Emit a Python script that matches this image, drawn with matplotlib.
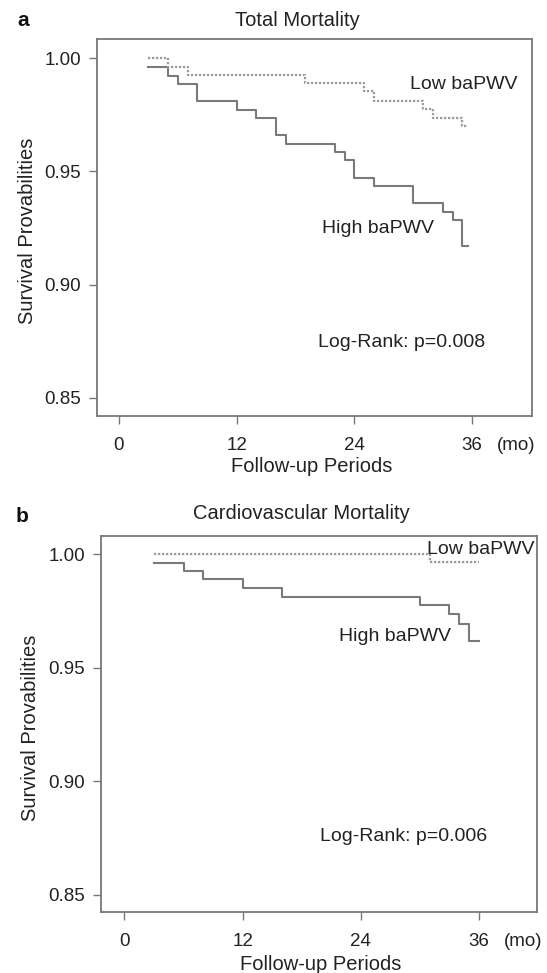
import matplotlib
matplotlib.use("Agg")
import matplotlib.pyplot as plt

plt.rcParams['font.family'] = ['Liberation Sans', 'DejaVu Sans']

# panel a: total mortality (months, survival)
a_low_t = [3, 5, 7, 19, 25, 26, 31, 32, 35, 35.6]
a_low_s = [1.000, 0.9962, 0.9925, 0.9890, 0.9854, 0.9813, 0.9774, 0.9736, 0.9700, 0.9700]
a_high_t = [3, 5, 6, 8, 12, 14, 16, 17, 22, 23, 24, 26, 30, 33, 34, 35, 35.6]
a_high_s = [0.9962, 0.9922, 0.9884, 0.9811, 0.9773, 0.9735, 0.9660, 0.9622, 0.9585,
            0.9549, 0.9470, 0.9435, 0.9360, 0.9320, 0.9286, 0.9170, 0.9170]

# panel b: cardiovascular mortality
b_low_t = [3, 31, 36]
b_low_s = [1.000, 0.9965, 0.9965]
b_high_t = [3, 6, 8, 12, 16, 30, 33, 34, 35, 36]
b_high_s = [0.9962, 0.9926, 0.9890, 0.9850, 0.9813, 0.9775, 0.9735, 0.9693, 0.9617, 0.9617]

xticks = [0, 12, 24, 36]
yticks = [0.85, 0.90, 0.95, 1.00]

fig = plt.figure(figsize=(5.47, 9.73), dpi=100)

txt = '#222222'
gray = '#777777'


def panel(rect, low_t, low_s, high_t, high_s, xlim, ylim, title, tpos, ptxt, lowpos, highpos, ppos, xlab_x, xlab_y, ylab_x):
    ax = fig.add_axes(rect)
    ax.step(high_t, high_s, where='post', color='#7a7a7a', lw=1.5)
    ax.step(low_t, low_s, where='post', color='#9a9a9a', lw=1.6, ls=(0, (1, 0.8)))
    ax.set_xlim(*xlim)
    ax.set_ylim(*ylim)
    ax.set_xticks(xticks)
    ax.set_yticks(yticks)
    ax.set_yticklabels([f'{v:.2f}' for v in yticks])
    for sp in ax.spines.values():
        sp.set_color(gray)
        sp.set_linewidth(1.3)
    ax.tick_params(direction='out', length=5.5, width=1.0, color=gray,
                   labelsize=13.5, labelcolor=txt)
    ax.tick_params(axis='y', pad=6)
    ax.tick_params(axis='x', pad=9.5)
    ax.set_xlabel('Follow-up Periods', fontsize=14.5, color=txt)
    ax.xaxis.set_label_coords(xlab_x, xlab_y)
    ax.set_ylabel('Survival Provabilities', fontsize=14.5, color=txt)
    ax.yaxis.set_label_coords(ylab_x, 0.49)
    ax.text(tpos[0], tpos[1], title, transform=ax.transAxes, ha='center', va='center',
            fontsize=14.5, color=txt)
    ax.annotate('(mo)', xy=(40.5, 0), xycoords=('data', 'axes fraction'),
                xytext=(0, -15), textcoords='offset points', ha='center', va='top',
                fontsize=13.5, color=txt)
    ax.text(lowpos[0], lowpos[1], 'Low baPWV', ha='center', va='center', fontsize=14, color=txt)
    ax.text(highpos[0], highpos[1], 'High baPWV', ha='center', va='center', fontsize=14, color=txt)
    ax.text(ppos[0], ppos[1], ptxt, ha='center', va='center', fontsize=14, color=txt)
    return ax


panel([97 / 547, 1 - 416 / 973, 435 / 547, 377 / 973],
      a_low_t, a_low_s, a_high_t, a_high_s,
      (-2.24, 42.1), (0.8419, 1.0085),
      'Total Mortality', (0.461, 1.050), 'Log-Rank: p=0.008',
      (35.1, 0.9882), (26.4, 0.9246), (28.8, 0.8742), 0.494, -0.11, -0.137)

panel([101 / 547, 1 - 912 / 973, 436 / 547, 376 / 973],
      b_low_t, b_low_s, b_high_t, b_high_s,
      (-2.38, 41.9), (0.8425, 1.008),
      'Cardiovascular Mortality', (0.46, 1.060), 'Log-Rank: p=0.006',
      (36.2, 1.0022), (27.45, 0.9637), (28.3, 0.8757), 0.503, -0.114, -0.140)

fig.text(22.8 / 547, 1 - 21 / 973, 'a', fontsize=15, fontweight='bold', ha='center', va='center', color='#111111')
fig.text(22 / 547, 1 - 517 / 973, 'b', fontsize=15, fontweight='bold', ha='center', va='center', color='#111111')

fig.savefig('out.png', dpi=100)
